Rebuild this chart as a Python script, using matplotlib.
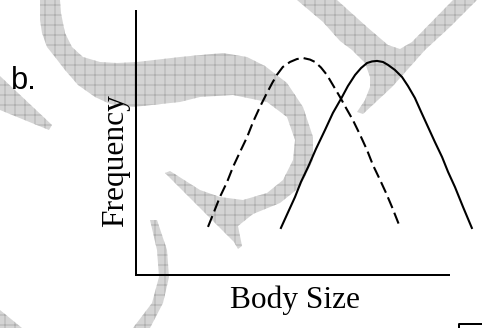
import matplotlib
matplotlib.use("Agg")
import matplotlib.pyplot as plt
from matplotlib.patches import Polygon

# ---- data: body-size distributions (arbitrary units) ----
size_dashed = [23.0, 24.9, 26.8, 29.1, 31.0, 33.2, 35.5, 37.4, 39.6, 41.5,
               43.5, 45.0, 46.9, 49.2, 51.4, 53.4, 55.6, 57.2, 59.1, 61.0,
               62.9, 65.2, 67.1, 69.3, 71.6, 73.8, 75.7, 78.0, 79.9, 81.8, 84.3]
freq_dashed = [18.2, 23.8, 29.5, 35.2, 40.9, 46.5, 52.2, 57.9, 63.6, 68.1,
               72.6, 75.7, 78.7, 80.6, 81.7, 82.1, 81.5, 80.6, 78.5, 75.7,
               71.9, 67.3, 63.2, 58.6, 53.0, 47.3, 41.6, 35.9, 31.0, 25.7, 18.2]

size_solid = [46.3, 48.6, 50.8, 52.7, 55.0, 57.5, 60.4, 62.9, 65.8, 67.7,
              70.0, 71.9, 73.8, 75.4, 77.0, 78.9, 80.5, 82.7, 85.0, 86.9,
              89.1, 91.1, 93.3, 95.5, 97.8, 99.7, 101.9, 104.5, 107.3]
freq_solid = [17.8, 23.8, 29.5, 35.2, 40.9, 47.7, 54.9, 61.3, 67.3, 71.5,
              75.7, 78.3, 80.2, 80.8, 81.0, 80.6, 79.5, 77.6, 74.9, 71.5,
              67.0, 61.7, 56.0, 50.3, 44.6, 39.0, 33.3, 25.7, 17.8]

x_label = "Body Size"
y_label = "Frequency"
panel_label = "b."

# ---- figure ----
W, H, DPI = 482, 328, 60
fig = plt.figure(figsize=(W / DPI, H / DPI), dpi=DPI)
fig.patch.set_facecolor("white")
plt.rcParams["hatch.linewidth"] = 1.0

# background layer in pixel units (decorative watermark shapes)
bg = fig.add_axes([0, 0, 1, 1], zorder=0)
bg.set_xlim(0, W)
bg.set_ylim(H, 0)
bg.axis("off")

shape_s = [(40, 0), (40, 20), (42, 33), (47, 47), (55, 57), (65, 70), (78, 85),
           (95, 97), (110, 104), (133, 107), (180, 102), (200, 97), (233, 95),
           (267, 102), (287, 117), (295, 140), (293, 160), (283, 180), (267, 193),
           (243, 200), (220, 197), (200, 190), (170, 171), (165, 173),
           (185, 193), (205, 213), (222, 230), (234, 242), (238, 249), (242, 246),
           (240, 236), (238, 226), (253, 214), (280, 203), (300, 187), (313, 160),
           (313, 137), (303, 107), (287, 83), (265, 66), (247, 57), (223, 53),
           (180, 57), (137, 62), (117, 63), (100, 62), (83, 57), (72, 47),
           (65, 33), (61, 13), (60, 0)]
shape_x = [(297, 0), (337, 0), (367, 27), (388, 45), (400, 49), (412, 42),
           (453, 0), (477, 0), (450, 27), (425, 50), (392, 87), (363, 114),
           (357, 112), (365, 100), (370, 87), (370, 77), (365, 63), (352, 50),
           (340, 41), (323, 22)]
shape_wedge = [(0, 76), (52, 125), (49, 130), (0, 110)]
shape_arc = [(150, 220), (157, 220), (167, 250), (169, 277), (163, 303),
             (150, 328), (133, 328), (152, 303), (159, 277), (157, 250)]
shape_corner = [(0, 310), (22, 328), (0, 328)]

for pts in (shape_s, shape_x, shape_wedge, shape_arc, shape_corner):
    bg.add_patch(Polygon(pts, closed=True, facecolor="#d4d4d4",
                         edgecolor="#aaaaaa", linewidth=0, hatch="+", zorder=0))

bg.text(11, 89, panel_label, ha="left", va="baseline", fontsize=37,
        family="Liberation Sans", color="black")
bg.plot([459, 459, 482], [328, 323.5, 323.5], color="black", lw=2.4,
        solid_capstyle="butt")

# ---- main axes ----
ax = fig.add_axes([136 / W, 53 / H, 313 / W, 264.3 / H], zorder=1)
ax.set_facecolor("none")
ax.set_xlim(0, 100)
ax.set_ylim(0, 100)
for side in ("top", "right"):
    ax.spines[side].set_visible(False)
for side in ("left", "bottom"):
    ax.spines[side].set_linewidth(2.4)
    ax.spines[side].set_color("black")
    ax.spines[side].set_capstyle("projecting")
ax.set_xticks([])
ax.set_yticks([])

ax.plot(size_dashed, freq_dashed, color="black", lw=2.5, dashes=(5.6, 2.4),
        clip_on=False)
ax.plot(size_solid, freq_solid, color="black", lw=2.5, clip_on=False,
        solid_joinstyle="round")

ax.set_xlabel(x_label, fontsize=37.7, family="Liberation Serif")
ax.xaxis.label.set_va("baseline")
ax.xaxis.set_label_coords((295.5 - 136) / 313, (275 - 308) / 264.3)

ax.set_ylabel(y_label, fontsize=37.7, family="Liberation Serif")
ax.yaxis.label.set_va("baseline")
ax.yaxis.set_label_coords((123 - 136) / 313, (275 - 161) / 264.3)

fig.savefig("out.png", dpi=DPI, facecolor="white")
